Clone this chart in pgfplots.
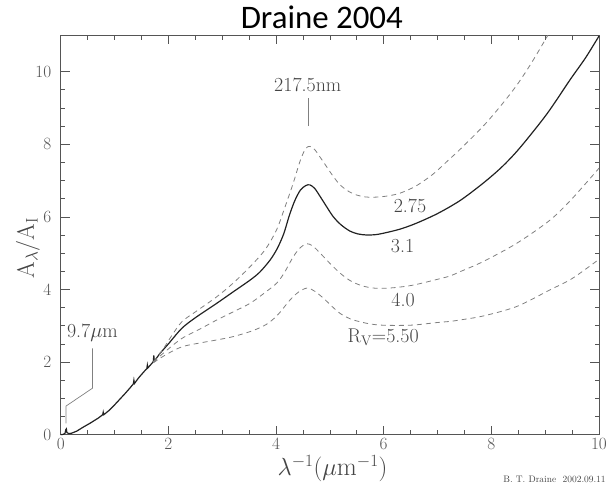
\documentclass[border=0pt]{standalone}
\usepackage{fontspec}
\usepackage{pgfplots}
\pgfplotsset{compat=1.18}
\newfontfamily\titlefont{Carlito}
\definecolor{framegray}{HTML}{555555}
\definecolor{curvegray}{HTML}{808080}
\definecolor{textgray}{HTML}{444444}
\definecolor{curveblack}{HTML}{222222}
\tikzset{
  dashcurve/.style={color=curvegray, line width=0.8bp, dash pattern=on 5bp off 4bp, smooth, tension=0.5},
  annot/.style={text=textgray, font=\fontsize{20}{20}\selectfont},
}

\begin{document}
\begin{tikzpicture}
\path[use as bounding box] (-60.7bp,-50.3bp) rectangle (549.3bp,434.7bp);
\begin{axis}[
  width=538.3bp, height=399.4bp, scale only axis,
  xmin=0, xmax=10, ymin=0, ymax=11,
  xtick={0,2,...,10}, ytick={0,2,...,10},
  minor tick num=3,
  major tick length=9bp, minor tick length=4.5bp,
  tick style={color=framegray, line width=0.6bp},
  axis line style={color=framegray, line width=1bp},
  tick label style={font=\fontsize{19}{19}\selectfont, text=framegray},
  yticklabel style={xshift=-6bp},
  clip=false,
]

% R_V = 3.1, infrared to optical (with the silicate feature and small glitches)
\addplot[color=curveblack, line width=1.2bp] coordinates {
(0,0) (0.05,0.01) (0.08,0.04) (0.095,0.14) (0.105,0.16) (0.115,0.06)
(0.15,0.03) (0.2,0.04) (0.3,0.1) (0.42,0.21) (0.55,0.32) (0.7,0.46)
(0.78,0.55) (0.79,0.62) (0.80,0.55) (0.9,0.67) (1.0,0.82) (1.1,0.98)
(1.2,1.14) (1.3,1.31) (1.35,1.40) (1.36,1.50) (1.37,1.41) (1.45,1.57)
(1.55,1.74) (1.6,1.82) (1.61,1.92) (1.62,1.84) (1.72,2.01) (1.73,2.18)
(1.74,2.03) (1.85,2.25)
};
% R_V = 3.1, optical to ultraviolet
\addplot[color=curveblack, line width=1.2bp, smooth, tension=0.5] coordinates {
(1.85,2.25) (2.0,2.5) (2.25,2.93) (2.5,3.22) (2.9,3.62) (3.2,3.93)
(3.52,4.26) (3.7,4.48) (3.89,4.81) (4.02,5.12) (4.14,5.52) (4.25,6.05)
(4.35,6.45) (4.45,6.73) (4.55,6.86) (4.63,6.88) (4.72,6.78) (4.82,6.56)
(4.94,6.28) (5.06,6.01) (5.2,5.79) (5.37,5.61) (5.52,5.53) (5.68,5.50)
(5.85,5.51) (6.0,5.55) (6.3,5.66) (6.6,5.82) (7.0,6.09) (7.42,6.45)
(7.85,6.93) (8.2,7.38) (8.53,7.90) (9.03,8.83) (9.46,9.77) (9.75,10.38)
(10.0,10.98)
};
% R_V = 2.75
\addplot[dashcurve] coordinates {
(1.72,2.01) (1.9,2.35) (2.05,2.7) (2.25,3.11) (2.5,3.38) (2.9,3.80)
(3.2,4.17) (3.52,4.63) (3.8,5.1) (4.01,5.64) (4.15,6.2) (4.32,6.93)
(4.45,7.55) (4.55,7.88) (4.63,7.94) (4.72,7.85) (4.83,7.62) (4.94,7.38)
(5.06,7.12) (5.19,6.88) (5.35,6.70) (5.50,6.60) (5.65,6.55) (5.81,6.54)
(6.05,6.57) (6.30,6.65) (6.6,6.85) (6.92,7.18) (7.23,7.60) (7.42,7.86)
(7.85,8.50) (8.17,9.05) (8.47,9.62) (8.75,10.25) (9.05,11.0)
};
% R_V = 4.0
\addplot[dashcurve] coordinates {
(1.72,2.0) (1.95,2.3) (2.25,2.65) (2.6,2.92) (2.9,3.16) (3.2,3.38)
(3.52,3.62) (3.8,3.92) (4.01,4.17) (4.15,4.45) (4.32,4.90) (4.45,5.15)
(4.57,5.26) (4.68,5.20) (4.82,5.00) (5.0,4.72) (5.19,4.45) (5.37,4.25)
(5.56,4.12) (5.75,4.05) (5.93,4.03) (6.2,4.05) (6.55,4.12) (7.0,4.28)
(7.23,4.37) (7.42,4.49) (7.85,4.77) (8.47,5.27) (9.09,5.91) (9.5,6.5)
(10.0,7.34)
};
% R_V = 5.5
\addplot[dashcurve] coordinates {
(1.72,1.98) (1.95,2.2) (2.25,2.42) (2.6,2.53) (2.9,2.61) (3.2,2.70)
(3.52,2.84) (3.75,2.98) (3.89,3.11) (4.05,3.33) (4.26,3.71) (4.42,3.93)
(4.58,4.04) (4.72,3.95) (4.88,3.76) (5.05,3.52) (5.19,3.34) (5.38,3.19)
(5.56,3.11) (5.75,3.05) (5.93,3.02) (6.2,3.01) (6.55,3.02) (7.0,3.09)
(7.23,3.12) (7.42,3.16) (7.85,3.27) (8.47,3.53) (9.09,3.99) (9.5,4.3)
(10.0,4.83)
};

% feature markers
\draw[color=curvegray, line width=0.7bp] (axis cs:4.6,8.5) -- (axis cs:4.6,9.27);
\draw[color=curvegray, line width=0.7bp] (axis cs:0.1,0.31) -- (axis cs:0.1,0.79)
  -- (axis cs:0.59,1.28) -- (axis cs:0.59,2.38);

\node[annot, anchor=base] at (axis cs:4.59,9.44) {217.5nm};
\node[annot, anchor=base] at (axis cs:0.59,2.67) {9.7$\mu$m};
\node[annot, anchor=base] at (axis cs:6.49,6.11) {2.75};
\node[annot, anchor=base] at (axis cs:6.35,5.03) {3.1};
\node[annot, anchor=base] at (axis cs:6.36,3.52) {4.0};
\node[annot, anchor=base] at (axis cs:5.99,2.53) {R$_{\mathrm{V}}$=5.50};

% axis labels, title and stamp
\node[text=textgray, font=\fontsize{26}{26}\selectfont] at (axis cs:5.05,-0.93)
  {$\lambda^{-1}(\mu\mathrm{m}^{-1})$};
\node[text=textgray, font=\fontsize{24}{24}\selectfont, rotate=90] at (axis cs:-0.61,5.14)
  {A$_\lambda$/A$_\mathrm{I}$};
\node[anchor=base, font=\titlefont\fontsize{33}{33}\selectfont] at (axis cs:4.85,11.2)
  {Draine 2004};
\node[anchor=base east, text=textgray, font=\fontsize{9.5}{9.5}\selectfont] at (axis cs:10.19,-1.33)
  {B. T. Draine\ \ 2002.09.11};
\end{axis}
\end{tikzpicture}
\end{document}
